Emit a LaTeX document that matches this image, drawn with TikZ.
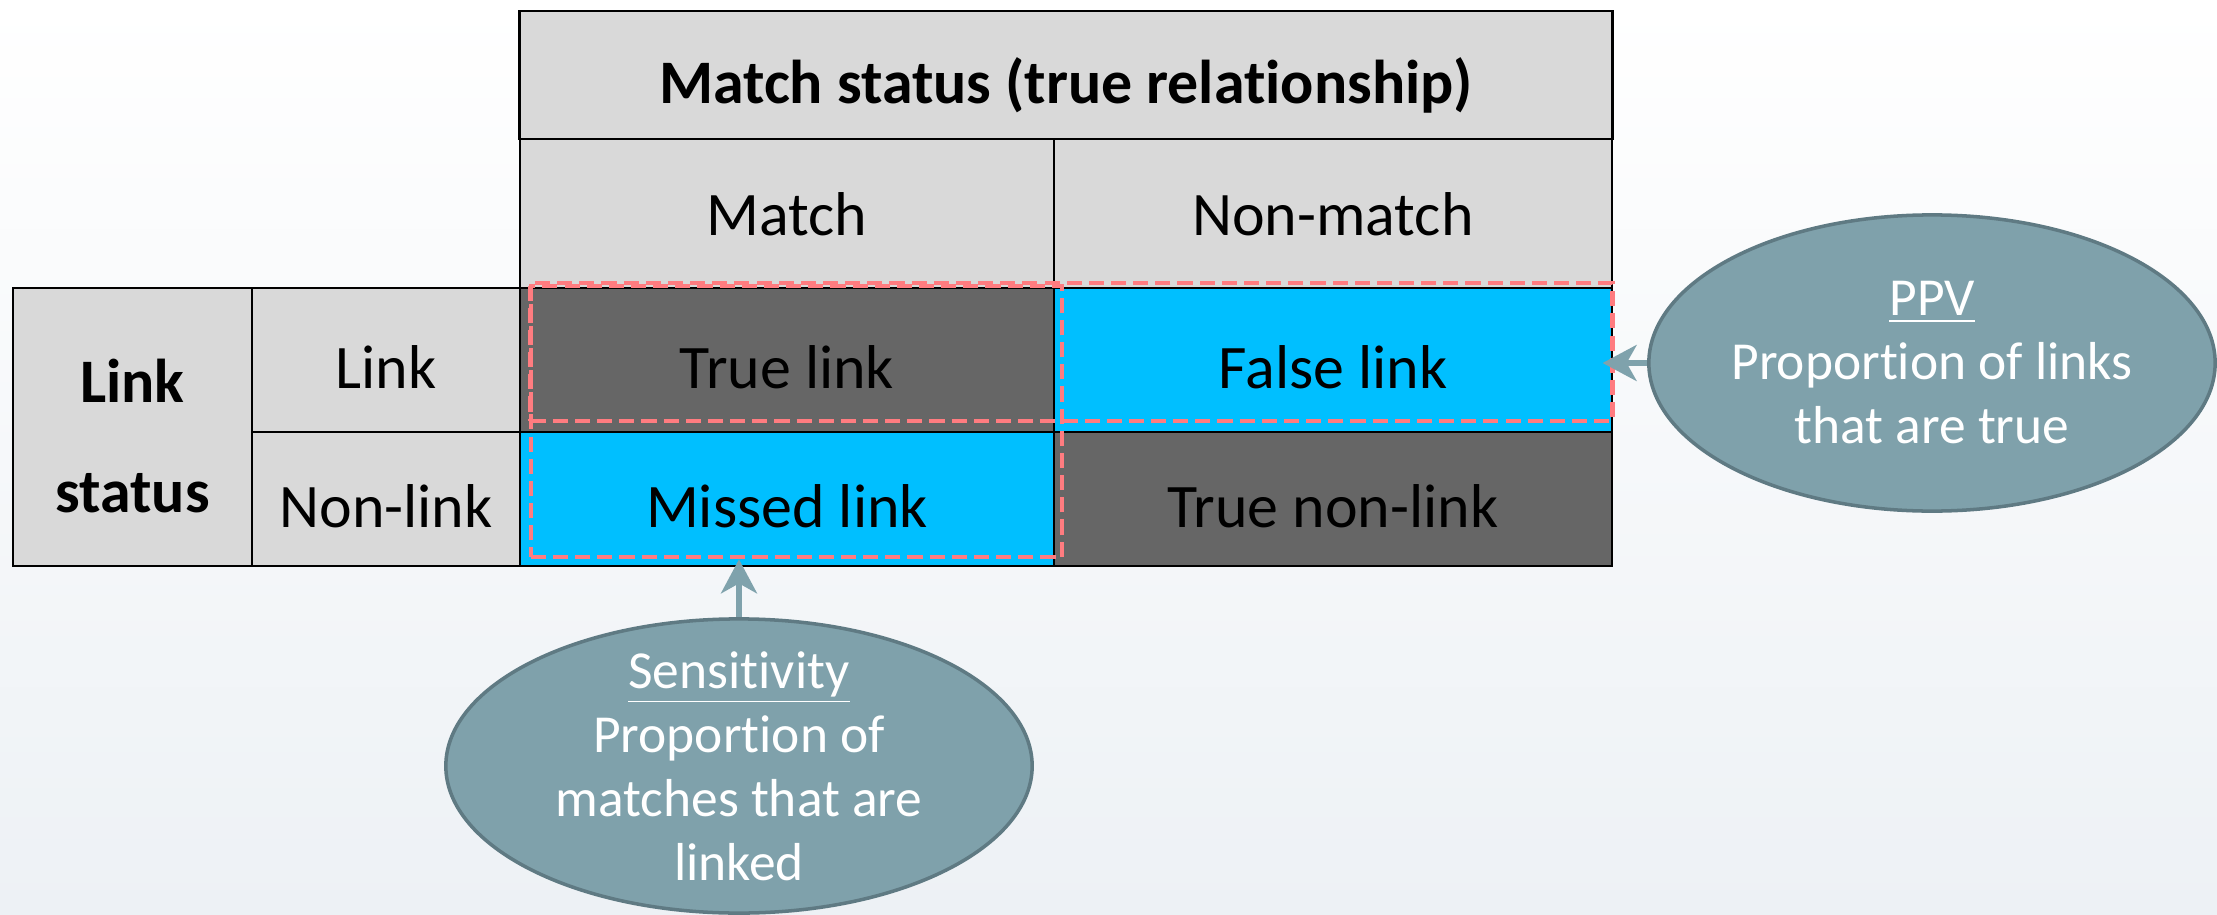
\documentclass[tikz,border=0pt]{standalone}
\usepackage{fontspec}
\setmainfont[Ligatures=NoCommon]{Carlito}
\usetikzlibrary{arrows.meta,shapes.geometric}
\definecolor{hdrgray}{HTML}{D9D9D9}
\definecolor{darkcell}{HTML}{666666}
\definecolor{bluecell}{HTML}{00BFFF}
\definecolor{dashred}{HTML}{FF7C80}
\definecolor{bubblefill}{HTML}{7FA1AB}
\definecolor{bubbleedge}{HTML}{5F7A83}
\definecolor{arrowcol}{HTML}{7FA2AC}
\definecolor{bgbottom}{HTML}{EDF1F5}
\begin{document}
\begin{tikzpicture}[x=0.01cm, y=-0.01cm,
  cell/.style={draw=black, line width=0.75pt, inner sep=0pt,
    font=\fontsize{17.6}{21}\selectfont, text depth=0pt},
  hdrcell/.style={cell, fill=hdrgray},
  darkbox/.style={cell, fill=darkcell},
  bluebox/.style={cell, fill=bluecell},
  dashbox/.style={draw=dashred, line width=1.3pt, dash pattern=on 4.3pt off 2pt,
    inner sep=0pt, fill=none},
  bubble/.style={ellipse, draw=bubbleedge, line width=1pt, fill=bubblefill, inner sep=0pt},
  bubbletext/.style={text=white, align=center, inner sep=0pt,
    font=\fontsize{15.2}{18.2}\selectfont},
  conn/.style={draw=arrowcol, line width=1.5pt,
    -{Stealth[length=0.34cm, width=0.36cm, inset=0.1cm]}}]

% page background
\shade[top color=white, bottom color=bgbottom] (0,0) rectangle (2217,915);
\useasboundingbox (0,0) rectangle (2217,915);

% column headers
\node[hdrcell, minimum width=10.92cm, minimum height=1.28cm, text height=0.56cm,
  font=\fontsize{17.6}{21}\selectfont\bfseries] (hdr) at (1066,75) {Match status (true relationship)};
\node[hdrcell, minimum width=5.34cm, minimum height=1.49cm, text height=0.43cm] (hmatch) at (787,213.5) {Match};
\node[hdrcell, minimum width=5.58cm, minimum height=1.49cm, text height=0.43cm] (hnon) at (1333,213.5) {Non-match};

% row headers
\node[hdrcell, minimum width=2.39cm, minimum height=2.78cm, align=center,
  font=\fontsize{17.6}{31.2}\selectfont\bfseries] (lstat) at (132.5,427) {\rule{0pt}{0.61cm}Link\\status};
\node[hdrcell, minimum width=2.68cm, minimum height=1.44cm, text height=0.56cm] (llink) at (386,360) {Link};
\node[hdrcell, minimum width=2.68cm, minimum height=1.34cm, text height=0.56cm] (lnon) at (386,499) {Non-link};

% outcome cells
\node[darkbox, minimum width=5.34cm, minimum height=1.44cm, text height=0.56cm] (ctl) at (787,360) {True link};
\node[bluebox, minimum width=5.58cm, minimum height=1.44cm, text height=0.56cm] (cfl) at (1333,360) {False link};
\node[bluebox, minimum width=5.34cm, minimum height=1.34cm, text height=0.56cm] (cml) at (787,499) {Missed link};
\node[darkbox, minimum width=5.58cm, minimum height=1.34cm, text height=0.56cm] (ctn) at (1333,499) {True non-link};

% highlighted groups
\node[dashbox, minimum width=10.81cm, minimum height=1.38cm] (rowbox) at (1071.5,352) {};
\node[dashbox, minimum width=5.31cm, minimum height=2.71cm] (colbox) at (796.5,421.5) {};

% measure bubbles
\node[bubble, minimum width=5.86cm, minimum height=2.94cm] (sens) at (739,766) {};
\node[bubbletext] (senstext) at (sens) {\underline{Sensitivity}\\Proportion of\\matches that are\\linked};
\node[bubble, minimum width=5.66cm, minimum height=2.96cm] (ppv) at (1932,363) {};
\node[bubbletext] (ppvtext) at (ppv) {\underline{PPV}\\Proportion of links\\that are true};

% pointers
\draw[conn] (sens) -- (sens.north |- colbox.south);
\draw[conn, shorten >=-0.12cm] (ppv) -- (rowbox.east |- ppv.west);
\end{tikzpicture}
\end{document}
